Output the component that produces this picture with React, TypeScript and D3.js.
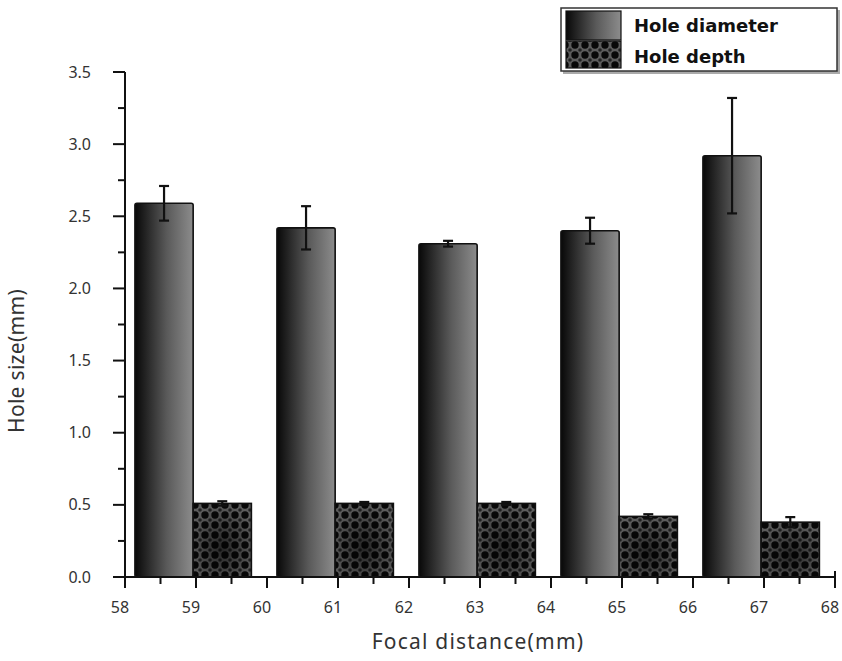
import React from "react";
import * as d3 from "d3";

// Focal distance groups (centre of each bar pair on the x axis)
const groupCenters = [59, 61, 63, 65, 67];
const diameterMeans = [2.59, 2.42, 2.31, 2.40, 2.92];
const diameterErrors = [0.12, 0.15, 0.02, 0.09, 0.4];
const depthMeans = [0.51, 0.51, 0.51, 0.42, 0.38];
const depthErrors = [0.015, 0.01, 0.01, 0.015, 0.035];
const xTicks = [58, 59, 60, 61, 62, 63, 64, 65, 66, 67, 68];
const yTicks = [0, 0.5, 1.0, 1.5, 2.0, 2.5, 3.0, 3.5];
const seriesNames = ["Hole diameter", "Hole depth"];

const W = 842;
const H = 661;
const plot = { left: 125, right: 835, top: 72, bottom: 577 };
const tickFont = "'Noto Sans', 'Open Sans', sans-serif";

export default function App() {
  const x = d3.scaleLinear().domain([58, 68]).range([plot.left, plot.right]);
  const y = d3.scaleLinear().domain([0, 3.5]).range([plot.bottom, plot.top]);

  const xMinor = d3.range(58.5, 68, 1);
  const yMinor = d3.range(0.25, 3.5, 0.5);

  const barW = 0.82;
  const gap = 0.04;

  const errorBar = (cx: number, mean: number, err: number, key: string) => {
    const px = x(cx);
    const cap = 5;
    return (
      <g key={key} stroke="#111" strokeWidth={2.2}>
        <line x1={px} x2={px} y1={y(mean + err)} y2={y(mean - err)} />
        <line x1={px - cap} x2={px + cap} y1={y(mean + err)} y2={y(mean + err)} />
        <line x1={px - cap} x2={px + cap} y1={y(mean - err)} y2={y(mean - err)} />
      </g>
    );
  };

  return (
    <div style={{ position: "absolute", left: 0, top: 0 }}>
      <svg width={W} height={H} style={{ display: "block", background: "#fff" }}>
        <defs>
          <linearGradient id="diamGrad" x1="0" x2="1" y1="0" y2="0">
            <stop offset="0" stopColor="#080808" />
            <stop offset="0.55" stopColor="#5a5a5a" />
            <stop offset="1" stopColor="#8c8c8c" />
          </linearGradient>
          <pattern id="dotPat" patternUnits="userSpaceOnUse" width={10} height={10}>
            <rect width={10} height={10} fill="#5c5c5c" />
            <circle cx={5} cy={5} r={3.7} fill="#080808" />
            <circle cx={0} cy={0} r={1.8} fill="#222" />
            <circle cx={10} cy={0} r={1.8} fill="#222" />
            <circle cx={0} cy={10} r={1.8} fill="#222" />
            <circle cx={10} cy={10} r={1.8} fill="#222" />
          </pattern>
          <radialGradient id="depthShade" cx="0.5" cy="0.6" r="0.6">
            <stop offset="0" stopColor="#000" stopOpacity={0.6} />
            <stop offset="1" stopColor="#000" stopOpacity={0} />
          </radialGradient>
        </defs>

        {/* Hole diameter bars */}
        {groupCenters.map((c, i) => {
          const x0 = x(c - barW - gap);
          const x1 = x(c - gap);
          return (
            <rect
              key={`d${i}`}
              x={x0}
              y={y(diameterMeans[i])}
              width={x1 - x0}
              height={y(0) - y(diameterMeans[i])}
              rx={2}
              fill="url(#diamGrad)"
              stroke="#111"
              strokeWidth={1.6}
            />
          );
        })}

        {/* Hole depth bars */}
        {groupCenters.map((c, i) => {
          const x0 = x(c - gap);
          const x1 = x(c - gap + barW);
          const top = y(depthMeans[i]);
          const h = y(0) - top;
          return (
            <g key={`p${i}`}>
              <rect x={x0} y={top} width={x1 - x0} height={h} fill="url(#dotPat)" />
              <rect x={x0} y={top} width={x1 - x0} height={h} fill="url(#depthShade)" />
              <rect x={x0} y={top} width={x1 - x0} height={h} fill="none" stroke="#111" strokeWidth={1.6} />
            </g>
          );
        })}

        {/* Error bars */}
        {groupCenters.map((c, i) =>
          errorBar(c - gap - barW / 2, diameterMeans[i], diameterErrors[i], `ed${i}`)
        )}
        {groupCenters.map((c, i) =>
          errorBar(c - gap + barW / 2, depthMeans[i], depthErrors[i], `ep${i}`)
        )}

        {/* Y axis */}
        <line x1={plot.left} x2={plot.left} y1={plot.top} y2={plot.bottom + 1} stroke="#111" strokeWidth={2} />
        {yTicks.map((t) => (
          <g key={`yt${t}`}>
            <line x1={plot.left - 12} x2={plot.left} y1={y(t)} y2={y(t)} stroke="#111" strokeWidth={2} />
            <text
              x={plot.left - 34}
              y={y(t)}
              dy="0.35em"
              textAnchor="end"
              fontFamily={tickFont}
              fontSize={16}
              fill="#333"
            >
              {d3.format(".1f")(t)}
            </text>
          </g>
        ))}
        {yMinor.map((t) => (
          <line key={`ym${t}`} x1={plot.left - 7} x2={plot.left} y1={y(t)} y2={y(t)} stroke="#111" strokeWidth={2} />
        ))}

        {/* X axis */}
        <line x1={plot.left - 1} x2={plot.right} y1={plot.bottom} y2={plot.bottom} stroke="#111" strokeWidth={2} />
        {xTicks.map((t) => (
          <g key={`xt${t}`}>
            <line x1={x(t)} x2={x(t)} y1={plot.bottom} y2={plot.bottom + 11} stroke="#111" strokeWidth={2} />
            <text
              x={x(t) - 5}
              y={plot.bottom + 30}
              dy="0.35em"
              textAnchor="middle"
              fontFamily={tickFont}
              fontSize={16}
              fill="#333"
            >
              {t}
            </text>
          </g>
        ))}
        <line x1={x(68)} x2={x(68)} y1={plot.bottom - 6} y2={plot.bottom} stroke="#111" strokeWidth={2} />
        {xMinor.map((t) => (
          <line key={`xm${t}`} x1={x(t)} x2={x(t)} y1={plot.bottom} y2={plot.bottom + 7} stroke="#111" strokeWidth={2} />
        ))}

        {/* Axis titles */}
        <text
          x={478}
          y={649}
          textAnchor="middle"
          fontFamily={tickFont}
          fontSize={21}
          letterSpacing={1.2}
          fill="#333"
        >
          Focal  distance(mm)
        </text>
        <text
          transform={`translate(24, ${361}) rotate(-90)`}
          textAnchor="middle"
          fontFamily={tickFont}
          fontSize={21}
          letterSpacing={0.3}
          fill="#333"
        >
          Hole size(mm)
        </text>

        {/* Legend */}
        <g>
          <rect x={563} y={10} width={277} height={64} fill="#aaa" />
          <rect x={561} y={8} width={276} height={63} fill="#fff" stroke="#333" strokeWidth={1.5} />
          <rect x={566} y={11} width={55} height={29} fill="url(#diamGrad)" stroke="#111" strokeWidth={1.2} />
          <rect x={566} y={41} width={55} height={27} fill="url(#dotPat)" />
          <rect x={566} y={41} width={55} height={27} fill="none" stroke="#111" strokeWidth={1.2} />
          <text
            x={634}
            y={32}
            fontFamily="'DejaVu Sans', sans-serif"
            fontWeight="bold"
            fontSize={18}
            fill="#111"
          >
            {seriesNames[0]}
          </text>
          <text
            x={634}
            y={63}
            fontFamily="'DejaVu Sans', sans-serif"
            fontWeight="bold"
            fontSize={18}
            fill="#111"
          >
            {seriesNames[1]}
          </text>
        </g>
      </svg>
    </div>
  );
}
